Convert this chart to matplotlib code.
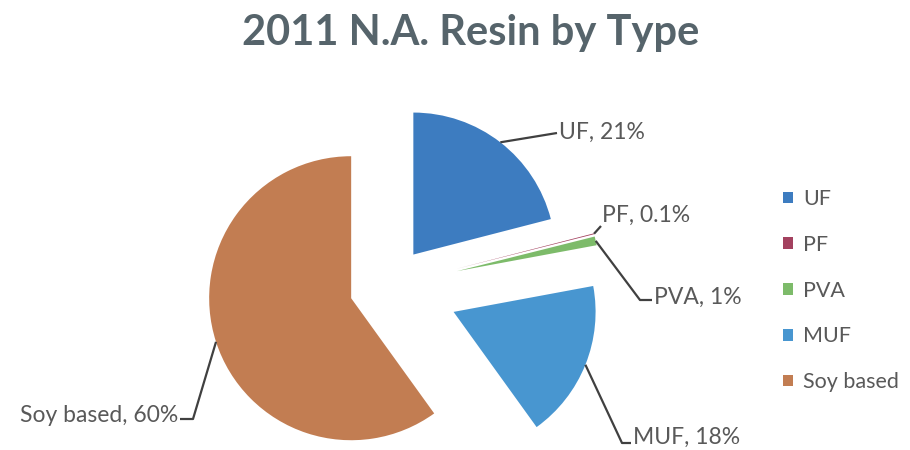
import numpy as np
import matplotlib
matplotlib.use("Agg")
import matplotlib.pyplot as plt

# Data
types = ["UF", "PF", "PVA", "MUF", "Soy based"]
shares = [21, 0.1, 1, 18, 60]
share_labels = ["21%", "0.1%", "1%", "18%", "60%"]
colors = ["#3d7cc0", "#a3415f", "#7dbb6a", "#4896d0", "#c27d52"]
explode = [0.28, 0.49, 0.49, 0.49, 0.28]

W, H = 910, 450
R_PX = 142.0           # pie radius in pixels
CX, CY = 389.0, 286.0  # pie centre in pixels


def px(x, y):
    # pixel (from top-left) -> data coords
    return (x - CX) / R_PX, (CY - y) / R_PX


plt.rcParams['font.family'] = ['Lato', 'DejaVu Sans']
fig = plt.figure(figsize=(W / 100, H / 100), dpi=100)
ax = fig.add_axes([0, 0, 1, 1])

wedges, _ = ax.pie(shares, explode=explode, colors=colors, startangle=90,
                   counterclock=False, radius=1,
                   wedgeprops=dict(linewidth=0))
ax.set_aspect('auto')
ax.set_xlim(-CX / R_PX, (W - CX) / R_PX)
ax.set_ylim(-(H - CY) / R_PX, CY / R_PX)
ax.axis('off')

# label layout: elbow point, end of horizontal stub, text anchor (pixels)
layout = {
    "UF": dict(elbow=(557, 133), stub=(557, 133), text=(559, 132), ha='left'),
    "PF": dict(elbow=(601, 226), stub=(601, 226), text=(602, 215), ha='left'),
    "PVA": dict(elbow=(640, 300), stub=(652, 300), text=(654, 297), ha='left'),
    "MUF": dict(elbow=(622, 443), stub=(631, 443), text=(633, 437), ha='left'),
    "Soy based": dict(elbow=(193, 419), stub=(180, 419), text=(178, 416), ha='right'),
}

txt_color = "#595959"
for w, name, lab in zip(wedges, types, share_labels):
    mid = np.deg2rad(0.5 * (w.theta1 + w.theta2))
    cx, cy = w.center
    sx, sy = cx + np.cos(mid), cy + np.sin(mid)
    L = layout[name]
    ex, ey = px(*L["elbow"])
    hx, hy = px(*L["stub"])
    ax.plot([sx, ex, hx], [sy, ey, hy], color="#404040", lw=1.6,
            solid_capstyle='butt', zorder=3)
    tx, ty = px(*L["text"])
    ax.text(tx, ty, f"{name}, {lab}", ha=L["ha"], va='center',
            fontsize=16.5, color=txt_color)

fig.text(471 / W, 1 - 33 / H, "2011 N.A. Resin by Type", ha='center',
         va='center', fontsize=30, fontweight='bold', color="#56646b")

leg = ax.legend(wedges, types, loc='upper left',
                bbox_to_anchor=(783 / W, 1 - 189 / H),
                bbox_transform=fig.transFigure, frameon=False,
                fontsize=15.5, handlelength=0.45, handleheight=0.45,
                handletextpad=0.48, labelspacing=1.2,
                borderpad=0, borderaxespad=0)
for t in leg.get_texts():
    t.set_color(txt_color)

fig.savefig("out.png", dpi=100)
